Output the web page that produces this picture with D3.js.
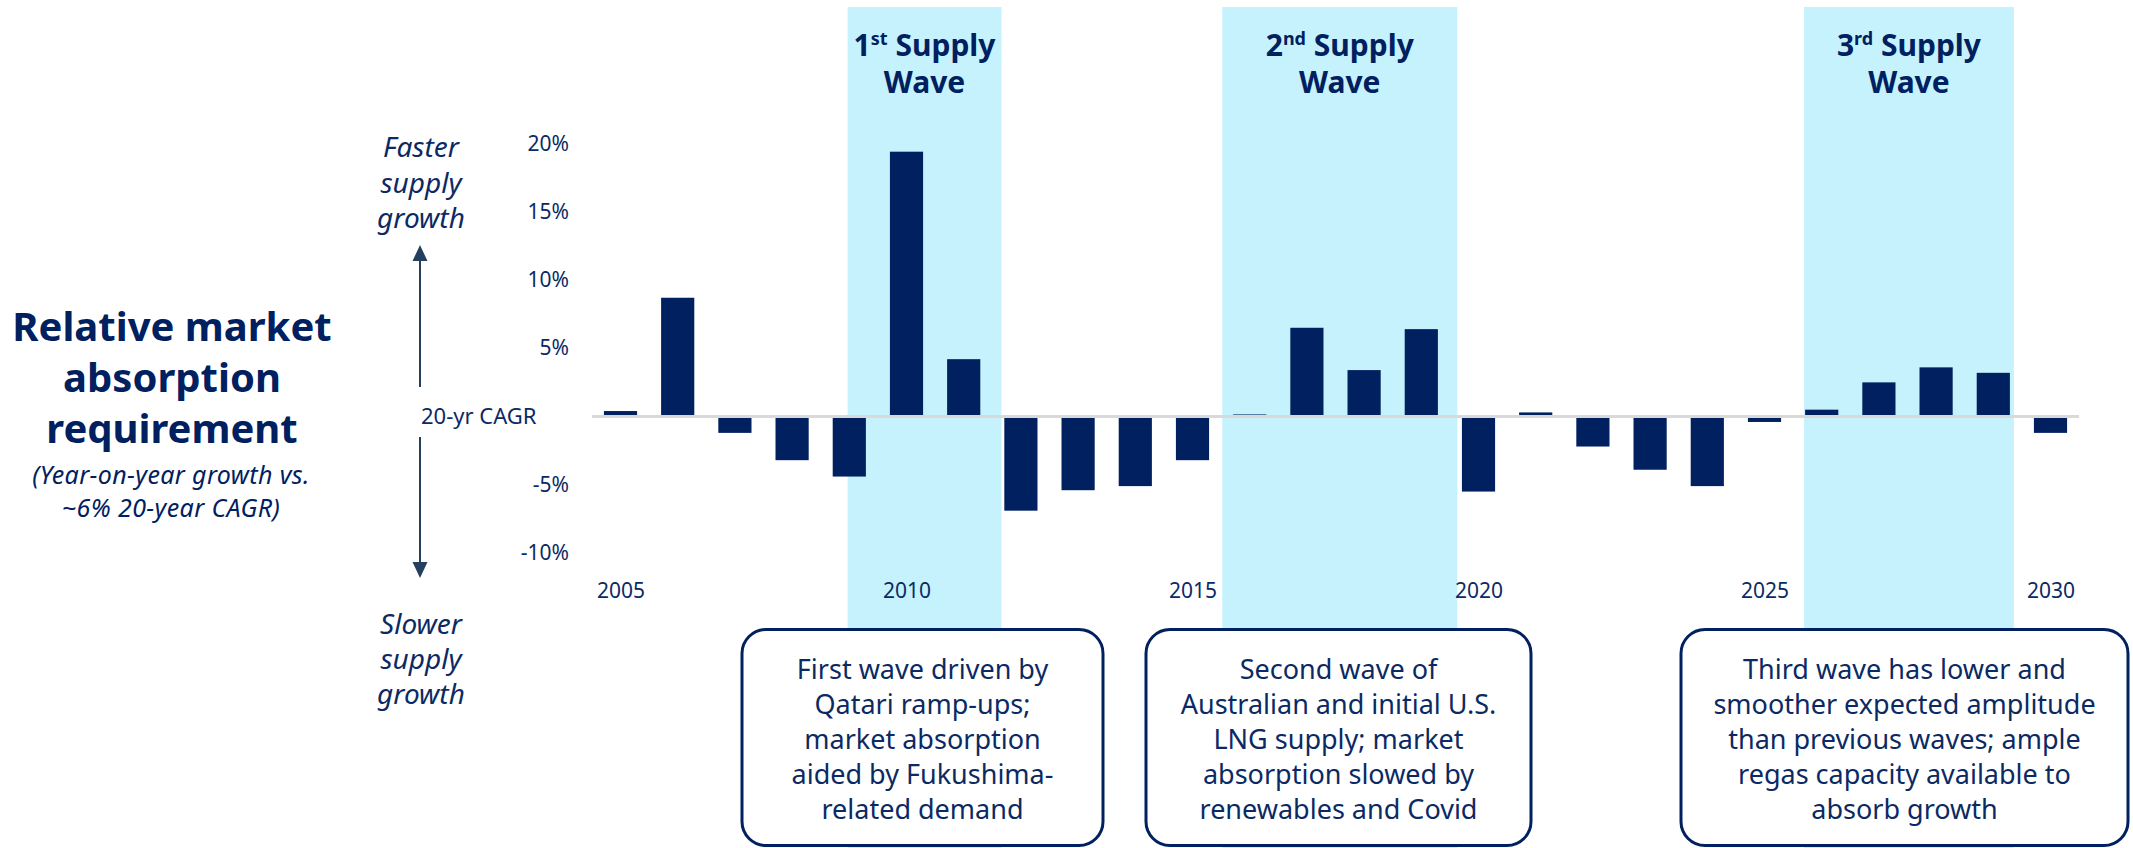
<!DOCTYPE html>
<html>
<head>
<meta charset="utf-8">
<script src="https://cdnjs.cloudflare.com/ajax/libs/d3/7.8.5/d3.min.js"></script>
<style>
  html, body { margin: 0; padding: 0; background: #fff; }
  svg { display: block; font-family: "Noto Sans", "Open Sans", sans-serif; }
</style>
</head>
<body>
<svg id="chart" width="2133" height="848"></svg>
<script>
// data
const years = [2005, 2006, 2007, 2008, 2009, 2010, 2011, 2012, 2013, 2014, 2015, 2016, 2017,
  2018, 2019, 2020, 2021, 2022, 2023, 2024, 2025, 2026, 2027, 2028, 2029, 2030];
const growthVsCagr = [0.4, 8.7, -1.2, -3.2, -4.4, 19.4, 4.2, -6.9, -5.4, -5.1, -3.2, 0.15, 6.5,
  3.4, 6.4, -5.5, 0.3, -2.2, -3.9, -5.1, -0.4, 0.5, 2.5, 3.6, 3.2, -1.2];
const yTicks = [-10, -5, 5, 10, 15, 20];
const xTicks = [2005, 2010, 2015, 2020, 2025, 2030];

// supply waves (start / end in year units)
const waveOrdinal = ['1', '2', '3'];
const waveSuffix = ['st', 'nd', 'rd'];
const waveStart = [2008.97, 2015.52, 2025.69];
const waveEnd = [2011.66, 2019.63, 2029.36];

const boxTexts = [
  ['First wave driven by', 'Qatari ramp-ups;', 'market absorption', 'aided by Fukushima-', 'related demand'],
  ['Second wave of', 'Australian and initial U.S.', 'LNG supply; market', 'absorption slowed by', 'renewables and Covid'],
  ['Third wave has lower and', 'smoother expected amplitude', 'than previous waves; ample', 'regas capacity available to', 'absorb growth']
];

const navy = '#002060';
const textNavy = '#0b2a63';
const arrowCol = '#25405f';
const shade = '#c6f2fd';

const svg = d3.select('#chart');

const x = d3.scaleLinear().domain([2005, 2030]).range([620.5, 2050.5]);
const y = d3.scaleLinear().domain([-10, 20]).range([553, 143.5]);
const barW = (x(2006) - x(2005)) * 0.58;

// multi-line text as one <text> with tspans
const multiline = (g, lines, cx, y0, lh) => {
  const t = g.append('text').attr('x', cx).attr('y', y0);
  lines.forEach((l, i) => {
    t.append('tspan').attr('x', cx).attr('y', y0 + i * lh).text(l);
  });
  return t;
};

// shaded wave bands
svg.append('g')
  .selectAll('rect')
  .data(waveStart)
  .enter()
  .append('rect')
  .attr('x', d => x(d))
  .attr('width', (d, i) => x(waveEnd[i]) - x(d))
  .attr('y', 7)
  .attr('height', 848 - 7)
  .attr('fill', shade);

// wave titles
const waveLabels = svg.append('g')
  .attr('fill', navy)
  .attr('font-weight', 700)
  .attr('font-size', 30)
  .attr('text-anchor', 'middle');

waveStart.forEach((s, i) => {
  const cx = (x(s) + x(waveEnd[i])) / 2;
  const t = waveLabels.append('text').attr('x', cx).attr('y', 55.5);
  t.append('tspan').text(waveOrdinal[i]);
  t.append('tspan').attr('font-size', 18).attr('dy', -11).text(waveSuffix[i]);
  t.append('tspan').attr('dy', 11).text(' Supply');
  waveLabels.append('text').attr('x', cx).attr('y', 92.6).text('Wave');
});

// zero (20-yr CAGR) line
svg.append('line')
  .attr('x1', x(2004.5))
  .attr('x2', x(2030.5))
  .attr('y1', y(0))
  .attr('y2', y(0))
  .attr('stroke', '#d9d9d9')
  .attr('stroke-width', 3);

// bars
svg.append('g')
  .selectAll('rect')
  .data(growthVsCagr)
  .enter()
  .append('rect')
  .attr('x', (d, i) => x(years[i]) - barW / 2)
  .attr('width', barW)
  .attr('y', d => d >= 0 ? y(d) : y(0) + 1.5)
  .attr('height', d => d >= 0 ? y(0) - 1.5 - y(d) : y(d) - y(0) - 1.5)
  .attr('fill', navy);

// axes
const yAxis = svg.append('g')
  .attr('transform', 'translate(569,0)')
  .call(d3.axisLeft(y).tickValues(yTicks).tickSize(0).tickPadding(0).tickFormat(d => d + '%'));
yAxis.select('.domain').remove();
yAxis.selectAll('text')
  .attr('font-size', 21)
  .attr('font-family', '"Noto Sans", sans-serif')
  .attr('fill', textNavy);

const xAxis = svg.append('g')
  .attr('transform', 'translate(0,583)')
  .call(d3.axisBottom(x).tickValues(xTicks).tickSize(0).tickPadding(0).tickFormat(d3.format('d')));
xAxis.select('.domain').remove();
xAxis.selectAll('text')
  .attr('font-size', 21)
  .attr('font-family', '"Noto Sans", sans-serif')
  .attr('fill', textNavy);

// left title
const title = svg.append('g').attr('text-anchor', 'middle').attr('fill', navy);
multiline(title, ['Relative market', 'absorption', 'requirement'], 172, 341, 51)
  .attr('font-size', 40).attr('font-weight', 700);
multiline(title, ['(Year-on-year growth vs.', '~6% 20-year CAGR)'], 171, 484, 33)
  .attr('font-size', 25).attr('letter-spacing', 0.4).attr('font-style', 'italic');

// faster / slower arrows
const side = svg.append('g').attr('text-anchor', 'middle').attr('fill', textNavy)
  .attr('font-size', 28).attr('font-style', 'italic');
multiline(side, ['Faster', 'supply', 'growth'], 421, 157, 35.5);
multiline(side, ['Slower', 'supply', 'growth'], 421, 634, 35);

svg.append('line').attr('x1', 420).attr('x2', 420).attr('y1', 387).attr('y2', 258)
  .attr('stroke', arrowCol).attr('stroke-width', 2);
svg.append('polygon').attr('points', '420,245 412.5,261 427.5,261').attr('fill', arrowCol);
svg.append('line').attr('x1', 420).attr('x2', 420).attr('y1', 437).attr('y2', 565)
  .attr('stroke', arrowCol).attr('stroke-width', 2);
svg.append('polygon').attr('points', '420,578 412.5,562 427.5,562').attr('fill', arrowCol);

svg.append('text')
  .attr('x', 421).attr('y', y(0))
  .attr('dy', '0.35em')
  .attr('font-size', 22)
  .attr('fill', textNavy)
  .text('20-yr CAGR');

// callout boxes
const boxX = [[742, 1103], [1146, 1531], [1681, 2128]];
boxTexts.forEach((lines, i) => {
  const [b0, b1] = boxX[i];
  svg.append('rect')
    .attr('x', b0).attr('y', 629.5)
    .attr('width', b1 - b0).attr('height', 216)
    .attr('rx', 24).attr('ry', 24)
    .attr('fill', '#fff')
    .attr('stroke', navy)
    .attr('stroke-width', 3);
  const g = svg.append('g').attr('text-anchor', 'middle').attr('fill', textNavy);
  multiline(g, lines, (b0 + b1) / 2, 679, 35).attr('font-size', 27);
});
</script>
</body>
</html>
